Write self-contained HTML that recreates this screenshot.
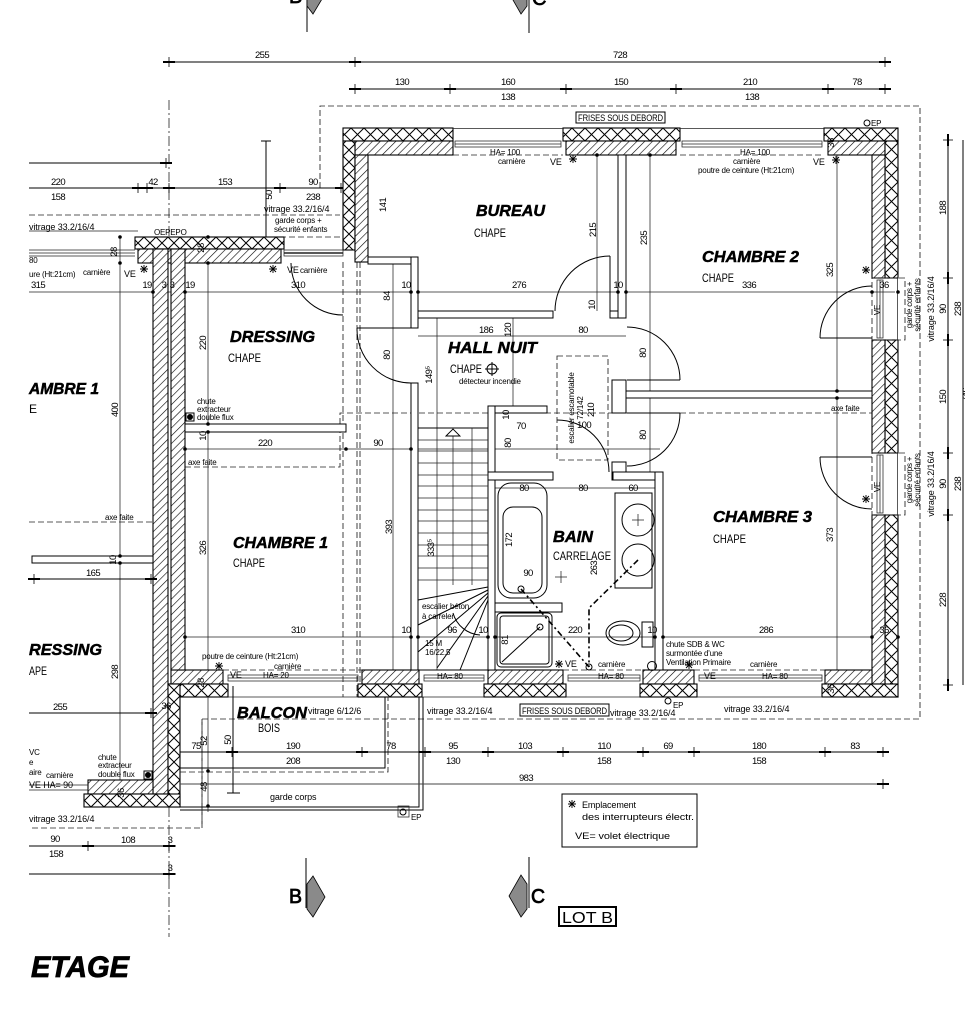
<!DOCTYPE html>
<html><head><meta charset="utf-8">
<style>
html,body{margin:0;padding:0;background:#fff;}
svg{display:block;}
text{font-family:"Liberation Sans",sans-serif;fill:#000;}
.d{font-size:9.5px;letter-spacing:-0.6px;}
.s{font-size:8px;letter-spacing:-0.2px;}
.m{font-size:9px;letter-spacing:-0.1px;}
.r{font-weight:bold;font-style:italic;font-size:16px;stroke:#000;stroke-width:0.5;}
.c{font-size:12px;}
.ln{stroke:#000;stroke-width:1;fill:none;}
.th{stroke:#222;stroke-width:0.75;fill:none;}
.da{stroke:#222;stroke-width:0.85;stroke-dasharray:6 3;fill:none;}
.dd{stroke:#222;stroke-width:0.8;stroke-dasharray:10 3 2 3;fill:none;}
.w{fill:#fff;stroke:#000;stroke-width:1;}
.hb{stroke:#000;stroke-width:1.1;}
</style></head><body>
<svg width="965" height="1024" viewBox="0 0 965 1024" xmlns="http://www.w3.org/2000/svg" xmlns:xlink="http://www.w3.org/1999/xlink">
<defs>
<pattern id="dg" patternUnits="userSpaceOnUse" width="5.5" height="5.5" patternTransform="rotate(45)"><rect width="5.5" height="5.5" fill="#fff"/><line x1="0" y1="0" x2="0" y2="5.5" stroke="#000" stroke-width="1.2"/></pattern>
<pattern id="xT" patternUnits="userSpaceOnUse" x="0" y="128" width="13" height="13"><rect width="13" height="13" fill="#fff"/><path d="M0 0L13 13M13 0L0 13" stroke="#000" stroke-width="1"/></pattern>
<pattern id="xB" patternUnits="userSpaceOnUse" x="0" y="684" width="13" height="13"><rect width="13" height="13" fill="#fff"/><path d="M0 0L13 13M13 0L0 13" stroke="#000" stroke-width="1"/></pattern>
<pattern id="xR" patternUnits="userSpaceOnUse" x="885" y="0" width="13" height="13"><rect width="13" height="13" fill="#fff"/><path d="M0 0L13 13M13 0L0 13" stroke="#000" stroke-width="1"/></pattern>
<pattern id="xL" patternUnits="userSpaceOnUse" x="343" y="0" width="12" height="12"><rect width="12" height="12" fill="#fff"/><path d="M0 0L12 12M12 0L0 12" stroke="#000" stroke-width="1"/></pattern>
<pattern id="xW" patternUnits="userSpaceOnUse" x="0" y="237" width="12" height="12"><rect width="12" height="12" fill="#fff"/><path d="M0 0L12 12M12 0L0 12" stroke="#000" stroke-width="1"/></pattern>
<pattern id="xV" patternUnits="userSpaceOnUse" x="168" y="0" width="12" height="12"><rect width="12" height="12" fill="#fff"/><path d="M0 0L12 12M12 0L0 12" stroke="#000" stroke-width="1"/></pattern>
<pattern id="xLB" patternUnits="userSpaceOnUse" x="0" y="794" width="13" height="13"><rect width="13" height="13" fill="#fff"/><path d="M0 0L13 13M13 0L0 13" stroke="#000" stroke-width="1"/></pattern>
<g id="tk"><line x1="0" y1="-5" x2="0" y2="5" stroke="#000" stroke-width="0.8"/><rect x="-6" y="-1" width="12" height="2" fill="#000"/></g>
<g id="tkv"><line x1="-5" y1="0" x2="5" y2="0" stroke="#000" stroke-width="0.8"/><rect x="-1" y="-6" width="2" height="12" fill="#000"/></g>
<g id="ast"><path d="M-4 0H4M0 -4V4M-3 -3L3 3M-3 3L3 -3" stroke="#000" stroke-width="0.9"/></g>
</defs>
<rect width="965" height="1024" fill="#fff"/>

<!-- section markers top -->
<line x1="307" y1="0" x2="307" y2="32" class="ln"/>
<polygon points="307,-19 313,-27 325,-6 313,14 307,6" fill="#8a8a8a" stroke="#000" stroke-width="0.8"/>
<text x="289" y="3" font-size="20" fill="#fff" stroke="#000" stroke-width="0.7">B</text>
<line x1="529" y1="0" x2="529" y2="33" class="ln"/>
<polygon points="527,-19 521,-28 509,-7 521,14 527,6" fill="#8a8a8a" stroke="#000" stroke-width="0.8"/>
<text x="532" y="5" font-size="20" fill="#fff" stroke="#000" stroke-width="0.7">C</text>

<!-- top dimensions -->
<line x1="169" y1="62" x2="885" y2="62" class="ln"/>
<use xlink:href="#tk" x="169" y="62"/><use xlink:href="#tk" x="355" y="62"/><use xlink:href="#tk" x="885" y="62"/>
<text x="262" y="58" class="d" text-anchor="middle">255</text>
<text x="620" y="58" class="d" text-anchor="middle">728</text>
<line x1="355" y1="89" x2="885" y2="89" class="ln"/>
<use xlink:href="#tk" x="355" y="89"/><use xlink:href="#tk" x="450" y="89"/><use xlink:href="#tk" x="566" y="89"/><use xlink:href="#tk" x="676" y="89"/><use xlink:href="#tk" x="828" y="89"/><use xlink:href="#tk" x="885" y="89"/>
<text x="402" y="85" class="d" text-anchor="middle">130</text>
<text x="508" y="85" class="d" text-anchor="middle">160</text>
<text x="508" y="100" class="d" text-anchor="middle">138</text>
<text x="621" y="85" class="d" text-anchor="middle">150</text>
<text x="750" y="85" class="d" text-anchor="middle">210</text>
<text x="752" y="100" class="d" text-anchor="middle">138</text>
<text x="857" y="85" class="d" text-anchor="middle">78</text>

<!-- roof outline dashed -->
<path d="M320 188V106H920V719H202V828H29" class="da"/>
<line x1="29" y1="215" x2="340" y2="215" class="da"/>
<line x1="280" y1="237" x2="343" y2="237" class="da"/>
<line x1="29" y1="231" x2="138" y2="231" class="th"/>
<line x1="343" y1="262" x2="343" y2="697" class="da"/>
<line x1="357" y1="262" x2="357" y2="697" class="da"/>
<line x1="360" y1="262" x2="360" y2="697" class="da"/>
<path d="M185 467H340V413H872" class="da"/>
<line x1="29" y1="522" x2="153" y2="522" class="da"/>

<!-- axis dash-dot -->
<line x1="169" y1="100" x2="169" y2="250" class="dd"/>
<line x1="169" y1="807" x2="169" y2="937" class="dd"/>

<!-- left top dims -->
<line x1="29" y1="163" x2="169" y2="163" class="ln"/><use xlink:href="#tk" x="166" y="163"/>
<line x1="29" y1="188" x2="343" y2="188" class="ln"/>
<use xlink:href="#tk" x="138" y="188"/><use xlink:href="#tk" x="147" y="188"/><use xlink:href="#tk" x="169" y="188"/><use xlink:href="#tk" x="280" y="188"/><use xlink:href="#tk" x="341" y="188"/>
<text x="58" y="185" class="d" text-anchor="middle">220</text>
<text x="58" y="200" class="d" text-anchor="middle">158</text>
<text x="153" y="185" class="d" text-anchor="middle">42</text>
<text x="225" y="185" class="d" text-anchor="middle">153</text>
<text class="d" transform="translate(272,195) rotate(-90)" text-anchor="middle">50</text>
<text x="313" y="185" class="d" text-anchor="middle">90</text>
<text x="313" y="200" class="d" text-anchor="middle">238</text>
<line x1="266" y1="141" x2="266" y2="245" class="ln"/><line x1="261" y1="141" x2="271" y2="141" class="ln"/>
<text x="264" y="212" class="m">vitrage 33.2/16/4</text>
<text x="275" y="223" class="s">garde corps +</text>
<text x="274" y="232" class="s">sécurité enfants</text>
<text x="29" y="230" class="m">vitrage 33.2/16/4</text>
<text x="154" y="235" class="s">OEPEPO</text>

<!-- thin grid lines -->
<line x1="29" y1="292" x2="895" y2="292" class="th"/>
<line x1="120" y1="237" x2="120" y2="807" class="th"/>
<line x1="208" y1="237" x2="208" y2="690" class="th"/>
<line x1="393" y1="262" x2="393" y2="670" class="th"/>
<line x1="437" y1="318" x2="437" y2="670" class="th"/>
<line x1="513" y1="318" x2="513" y2="406" class="th"/>
<line x1="597" y1="155" x2="597" y2="311" class="th"/>
<line x1="650" y1="155" x2="650" y2="472" class="th"/>
<line x1="837" y1="155" x2="837" y2="697" class="th"/>
<line x1="418" y1="336" x2="626" y2="336" class="th"/>
<line x1="185" y1="449" x2="660" y2="449" class="th"/>
<line x1="185" y1="637" x2="895" y2="637" class="th"/>
<line x1="495" y1="488" x2="655" y2="488" class="th"/>

<!-- ===== main walls ===== -->
<rect x="343" y="128" width="110" height="13" fill="url(#xT)" class="hb"/>
<rect x="563" y="128" width="117" height="13" fill="url(#xT)" class="hb"/>
<rect x="824" y="128" width="74" height="13" fill="url(#xT)" class="hb"/>
<rect x="355" y="141" width="98" height="14" fill="url(#dg)" class="hb"/>
<rect x="566" y="141" width="110" height="14" fill="url(#dg)" class="hb"/>
<rect x="828" y="141" width="57" height="14" fill="url(#dg)" class="hb"/>
<rect x="343" y="141" width="12" height="109" fill="url(#xL)" class="hb"/>
<rect x="355" y="155" width="13" height="107" fill="url(#dg)" class="hb"/>
<rect x="885" y="141" width="13" height="137" fill="url(#xR)" class="hb"/>
<rect x="885" y="340" width="13" height="113" fill="url(#xR)" class="hb"/>
<rect x="885" y="515" width="13" height="182" fill="url(#xR)" class="hb"/>
<rect x="872" y="155" width="13" height="123" fill="url(#dg)" class="hb"/>
<rect x="872" y="340" width="13" height="113" fill="url(#dg)" class="hb"/>
<rect x="872" y="515" width="13" height="169" fill="url(#dg)" class="hb"/>
<rect x="171" y="670" width="52" height="14" fill="url(#dg)" class="hb"/>
<rect x="362" y="670" width="57" height="14" fill="url(#dg)" class="hb"/>
<rect x="488" y="670" width="75" height="14" fill="url(#dg)" class="hb"/>
<rect x="643" y="670" width="51" height="14" fill="url(#dg)" class="hb"/>
<rect x="825" y="670" width="47" height="14" fill="url(#dg)" class="hb"/>
<rect x="168" y="684" width="60" height="13" fill="url(#xB)" class="hb"/>
<rect x="358" y="684" width="64" height="13" fill="url(#xB)" class="hb"/>
<rect x="484" y="684" width="82" height="13" fill="url(#xB)" class="hb"/>
<rect x="640" y="684" width="57" height="13" fill="url(#xB)" class="hb"/>
<rect x="822" y="684" width="76" height="13" fill="url(#xB)" class="hb"/>
<rect x="135" y="237" width="149" height="12" fill="url(#xW)" class="hb"/>
<rect x="138" y="249" width="143" height="14" fill="url(#dg)" class="hb"/>
<rect x="153" y="249" width="15" height="545" fill="url(#dg)" class="hb"/>
<rect x="171" y="249" width="14" height="421" fill="url(#dg)" class="hb"/>
<rect x="168" y="684" width="12" height="123" fill="url(#xV)" class="hb"/>
<rect x="88" y="780" width="65" height="14" fill="url(#dg)" class="hb"/>
<rect x="84" y="794" width="96" height="13" fill="url(#xLB)" class="hb"/>

<!-- windows -->
<g class="th">
<line x1="453" y1="128.5" x2="563" y2="128.5"/><line x1="453" y1="155" x2="563" y2="155" class="da"/>
<rect x="455" y="141" width="106" height="6"/><line x1="455" y1="144" x2="561" y2="144"/>
<line x1="680" y1="128.5" x2="824" y2="128.5"/><line x1="680" y1="155" x2="824" y2="155" class="da"/>
<rect x="682" y="141" width="140" height="6"/><line x1="682" y1="144" x2="822" y2="144"/>
<line x1="228" y1="697" x2="358" y2="697"/><line x1="223" y1="670" x2="362" y2="670" class="da"/>
<rect x="228" y="675" width="130" height="6"/><line x1="228" y1="678" x2="358" y2="678"/>
<line x1="422" y1="697" x2="484" y2="697"/><line x1="419" y1="670" x2="488" y2="670" class="da"/>
<rect x="424" y="675" width="60" height="6"/><line x1="424" y1="678" x2="484" y2="678"/>
<line x1="566" y1="697" x2="640" y2="697"/><line x1="563" y1="670" x2="643" y2="670" class="da"/>
<rect x="568" y="675" width="72" height="6"/><line x1="568" y1="678" x2="640" y2="678"/>
<line x1="697" y1="697" x2="822" y2="697"/><line x1="694" y1="670" x2="825" y2="670" class="da"/>
<rect x="699" y="675" width="123" height="6"/><line x1="699" y1="678" x2="822" y2="678"/>
<line x1="897.5" y1="278" x2="897.5" y2="340"/><rect x="877" y="280" width="6" height="58"/><line x1="880" y1="280" x2="880" y2="338"/>
<line x1="897.5" y1="453" x2="897.5" y2="515"/><rect x="877" y="455" width="6" height="58"/><line x1="880" y1="455" x2="880" y2="513"/>
<rect x="872" y="278" width="33" height="62" class="da"/>
<rect x="872" y="453" width="33" height="62" class="da"/>
<line x1="29" y1="250" x2="135" y2="250"/><line x1="29" y1="256" x2="135" y2="256"/><line x1="29" y1="253" x2="135" y2="253"/>
<rect x="284" y="250" width="59" height="6"/><line x1="284" y1="253" x2="343" y2="253" stroke-width="1.5"/>
<line x1="29" y1="785" x2="88" y2="785"/><line x1="29" y1="790" x2="88" y2="790"/>
</g>

<!-- interior walls -->
<rect x="368" y="257" width="50" height="7" class="w"/>
<rect x="411" y="257" width="7" height="71" class="w"/>
<rect x="411" y="383" width="7" height="287" class="w"/>
<rect x="418" y="311" width="135" height="7" class="w"/>
<rect x="610" y="311" width="16" height="7" class="w"/>
<rect x="618" y="155" width="8" height="163" class="w"/>
<rect x="612" y="380" width="14" height="33" class="w"/>
<rect x="612" y="462" width="14" height="18" class="w"/>
<rect x="626" y="391" width="246" height="7" class="w"/>
<rect x="185" y="424" width="161" height="8" class="w"/>
<rect x="488" y="406" width="59" height="7" class="w"/>
<rect x="488" y="406" width="7" height="264" class="w"/>
<rect x="488" y="472" width="65" height="8" class="w"/>
<rect x="613" y="472" width="50" height="8" class="w"/>
<rect x="655" y="472" width="8" height="198" class="w"/>
<rect x="495" y="603" width="67" height="9" class="w"/>
<rect x="32" y="556" width="121" height="7" class="w"/>

<!-- doors -->
<g class="ln" stroke-width="0.9">
<path d="M610 256A55 55 0 0 0 555 311"/><line x1="610" y1="256" x2="610" y2="311"/>
<path d="M357 328A54 54 0 0 0 411 383"/><line x1="357" y1="328" x2="411" y2="328"/>
<path d="M680 380A53 53 0 0 0 627 327"/><line x1="627" y1="380" x2="680" y2="380"/>
<path d="M680 413A53 53 0 0 1 627 466"/><line x1="627" y1="413" x2="680" y2="413"/>
<path d="M291 263A52 52 0 0 0 343 315"/>
<path d="M557 420A52 52 0 0 1 609 472"/>
<path d="M820 338A52 52 0 0 1 872 286"/><line x1="820" y1="338" x2="872" y2="338"/>
<path d="M820 457A52 52 0 0 0 872 509"/><line x1="820" y1="457" x2="872" y2="457"/>
</g>

<!-- stairs -->
<rect x="418" y="428" width="70" height="242" class="ln"/>
<g class="th">
<line x1="418" y1="440" x2="488" y2="440"/><line x1="418" y1="451" x2="488" y2="451"/><line x1="418" y1="463" x2="488" y2="463"/>
<line x1="418" y1="475" x2="488" y2="475"/><line x1="418" y1="486" x2="488" y2="486"/><line x1="418" y1="498" x2="488" y2="498"/>
<line x1="418" y1="510" x2="488" y2="510"/><line x1="418" y1="521" x2="488" y2="521"/><line x1="418" y1="533" x2="488" y2="533"/>
<line x1="418" y1="545" x2="488" y2="545"/><line x1="418" y1="556" x2="488" y2="556"/><line x1="418" y1="568" x2="488" y2="568"/>
<line x1="418" y1="580" x2="488" y2="580"/>
<line x1="453" y1="436" x2="453" y2="585"/><line x1="472" y1="428" x2="472" y2="585"/>
</g>
<g class="ln" stroke-width="0.8">
<line x1="488" y1="587" x2="418" y2="600"/><line x1="488" y1="590" x2="418" y2="625"/>
<line x1="488" y1="593" x2="418" y2="652"/><line x1="488" y1="596" x2="437" y2="668"/>
<line x1="488" y1="600" x2="460" y2="670"/>
<path d="M453 613A30 30 0 0 0 480 635"/>
</g>
<polygon points="446,436 453,429 460,436" fill="#fff" stroke="#000" stroke-width="0.9"/>

<!-- escalier escamotable -->
<rect x="557" y="356" width="51" height="104" class="da"/>

<!-- bathroom fixtures -->
<g class="ln" stroke-width="0.9">
<rect x="498" y="483" width="49" height="115" rx="13"/>
<rect x="503" y="507" width="39" height="86" rx="10"/>
<circle cx="521" cy="589" r="3"/>
<rect x="497" y="613" width="55" height="54" rx="4"/>
<rect x="500" y="616" width="49" height="48" rx="3"/>
<line x1="502" y1="662" x2="540" y2="627"/><circle cx="540" cy="627" r="3"/>
<rect x="615" y="493" width="37" height="95"/>
<circle cx="638" cy="520" r="16"/><circle cx="638" cy="560" r="16"/>
<ellipse cx="623" cy="633" rx="17" ry="12"/><ellipse cx="621" cy="633" rx="12" ry="8"/>
<rect x="642" y="622" width="11" height="25"/>
<circle cx="589" cy="667" r="3"/><circle cx="652" cy="666" r="4.5"/>
</g>
<g stroke="#000" stroke-width="1.6" stroke-dasharray="6 3 2 3" fill="none">
<path d="M521 589L589 667"/><path d="M638 560L589 608V667"/>
</g>
<g class="th"><line x1="632" y1="520" x2="644" y2="520"/><line x1="638" y1="514" x2="638" y2="526"/><line x1="555" y1="577" x2="567" y2="577"/><line x1="561" y1="571" x2="561" y2="583"/></g>

<!-- balcony -->
<g class="ln" stroke-width="0.8">
<line x1="180" y1="697" x2="180" y2="807"/>
<path d="M180 807H419V697M180 810H423V697"/>
<path d="M180 768H385V697"/>
<line x1="180" y1="784" x2="885" y2="784" stroke="#444"/>
<line x1="233" y1="686" x2="233" y2="793"/><line x1="227" y1="793" x2="240" y2="793"/>
</g>
<path d="M180 772H388V697" class="da"/>
<line x1="202" y1="719" x2="202" y2="828" class="da"/>
<line x1="208" y1="697" x2="208" y2="812" class="th"/>
<circle cx="403" cy="812" r="3" class="ln"/><rect x="398" y="806" width="11" height="11" class="th"/>
<text x="411" y="820" class="s">EP</text>

<!-- bottom dims -->
<line x1="180" y1="752" x2="885" y2="752" class="ln"/>
<use xlink:href="#tk" x="232" y="752"/><use xlink:href="#tk" x="362" y="752"/><use xlink:href="#tk" x="425" y="752"/><use xlink:href="#tk" x="488" y="752"/><use xlink:href="#tk" x="563" y="752"/><use xlink:href="#tk" x="643" y="752"/><use xlink:href="#tk" x="694" y="752"/><use xlink:href="#tk" x="825" y="752"/><use xlink:href="#tk" x="883" y="752"/>
<use xlink:href="#tk" x="883" y="784"/>
<text x="196" y="749" class="d" text-anchor="middle">75</text>
<text class="d" transform="translate(207,741) rotate(-90)" text-anchor="middle">52</text>
<text class="d" transform="translate(231,740) rotate(-90)" text-anchor="middle">50</text>
<text class="d" transform="translate(207,787) rotate(-90)" text-anchor="middle">48</text>
<text x="293" y="749" class="d" text-anchor="middle">190</text>
<text x="293" y="764" class="d" text-anchor="middle">208</text>
<text x="391" y="749" class="d" text-anchor="middle">78</text>
<text x="453" y="749" class="d" text-anchor="middle">95</text>
<text x="453" y="764" class="d" text-anchor="middle">130</text>
<text x="525" y="749" class="d" text-anchor="middle">103</text>
<text x="604" y="749" class="d" text-anchor="middle">110</text>
<text x="604" y="764" class="d" text-anchor="middle">158</text>
<text x="668" y="749" class="d" text-anchor="middle">69</text>
<text x="759" y="749" class="d" text-anchor="middle">180</text>
<text x="759" y="764" class="d" text-anchor="middle">158</text>
<text x="855" y="749" class="d" text-anchor="middle">83</text>
<text x="526" y="781" class="d" text-anchor="middle">983</text>
<text x="270" y="800" class="m">garde corps</text>

<!-- right dims -->
<line x1="948" y1="140" x2="948" y2="685" class="ln"/>
<use xlink:href="#tkv" x="948" y="140"/><use xlink:href="#tkv" x="948" y="278"/><use xlink:href="#tkv" x="948" y="340"/><use xlink:href="#tkv" x="948" y="453"/><use xlink:href="#tkv" x="948" y="515"/><use xlink:href="#tkv" x="948" y="685"/>
<line x1="963" y1="140" x2="963" y2="685" class="ln"/>
<text class="d" transform="translate(946,208) rotate(-90)" text-anchor="middle">188</text>
<text class="d" transform="translate(946,309) rotate(-90)" text-anchor="middle">90</text>
<text class="d" transform="translate(961,309) rotate(-90)" text-anchor="middle">238</text>
<text class="d" transform="translate(946,397) rotate(-90)" text-anchor="middle">150</text>
<text class="d" transform="translate(946,484) rotate(-90)" text-anchor="middle">90</text>
<text class="d" transform="translate(961,484) rotate(-90)" text-anchor="middle">238</text>
<text class="d" transform="translate(946,600) rotate(-90)" text-anchor="middle">228</text>
<text class="d" transform="translate(969,395) rotate(-90)" text-anchor="middle">746</text>
<text class="s" transform="translate(912,305) rotate(-90)" text-anchor="middle">garde corps +</text>
<text class="s" transform="translate(920,305) rotate(-90)" text-anchor="middle">sécurité enfants</text>
<text class="m" transform="translate(934,309) rotate(-90)" text-anchor="middle">vitrage 33.2/16/4</text>
<text class="s" transform="translate(912,480) rotate(-90)" text-anchor="middle">garde corps +</text>
<text class="s" transform="translate(920,480) rotate(-90)" text-anchor="middle">sécurité enfants</text>
<text class="m" transform="translate(934,484) rotate(-90)" text-anchor="middle">vitrage 33.2/16/4</text>

<!-- left bottom dims -->
<line x1="29" y1="713" x2="153" y2="713" class="ln"/><use xlink:href="#tk" x="151" y="713"/>
<text x="60" y="710" class="d" text-anchor="middle">255</text>
<line x1="32" y1="579" x2="153" y2="579" class="ln"/><use xlink:href="#tk" x="34" y="579"/><use xlink:href="#tk" x="151" y="579"/>
<text x="93" y="576" class="d" text-anchor="middle">165</text>
<line x1="29" y1="846" x2="176" y2="846" class="ln"/><use xlink:href="#tk" x="88" y="846"/><use xlink:href="#tk" x="169" y="846"/>
<line x1="29" y1="874" x2="176" y2="874" class="ln"/><use xlink:href="#tk" x="169" y="874"/>
<text x="55" y="842" class="d" text-anchor="middle">90</text>
<text x="128" y="843" class="d" text-anchor="middle">108</text>
<text x="56" y="857" class="d" text-anchor="middle">158</text>
<text x="170" y="843" class="d" text-anchor="middle">3</text>
<text x="170" y="871" class="d" text-anchor="middle">3</text>

<!-- interior dimension labels -->
<g class="d">
<text x="38" y="288" text-anchor="middle">315</text>
<text x="147" y="288" text-anchor="middle">19</text>
<text x="164" y="288" text-anchor="middle">3</text>
<text x="172" y="288" text-anchor="middle">3</text>
<text x="190" y="288" text-anchor="middle">19</text>
<text x="298" y="288" text-anchor="middle">310</text>
<text x="406" y="288" text-anchor="middle">10</text>
<text x="519" y="288" text-anchor="middle">276</text>
<text x="618" y="288" text-anchor="middle">10</text>
<text x="749" y="288" text-anchor="middle">336</text>
<text x="884" y="288" text-anchor="middle">36</text>
<text x="486" y="333" text-anchor="middle">186</text>
<text x="583" y="333" text-anchor="middle">80</text>
<text x="265" y="446" text-anchor="middle">220</text>
<text x="378" y="446" text-anchor="middle">90</text>
<text x="521" y="429" text-anchor="middle">70</text>
<text x="584" y="428" text-anchor="middle">100</text>
<text x="524" y="491" text-anchor="middle">80</text>
<text x="583" y="491" text-anchor="middle">80</text>
<text x="633" y="491" text-anchor="middle">60</text>
<text x="528" y="576" text-anchor="middle">90</text>
<text x="298" y="633" text-anchor="middle">310</text>
<text x="406" y="633" text-anchor="middle">10</text>
<text x="452" y="633" text-anchor="middle">96</text>
<text x="483" y="633" text-anchor="middle">10</text>
<text x="575" y="633" text-anchor="middle">220</text>
<text x="652" y="633" text-anchor="middle">10</text>
<text x="766" y="633" text-anchor="middle">286</text>
<text x="884" y="633" text-anchor="middle">36</text>
<text x="166" y="709" text-anchor="middle">36</text>
<text transform="translate(386,205) rotate(-90)" text-anchor="middle">141</text>
<text transform="translate(596,230) rotate(-90)" text-anchor="middle">215</text>
<text transform="translate(647,238) rotate(-90)" text-anchor="middle">235</text>
<text transform="translate(833,270) rotate(-90)" text-anchor="middle">325</text>
<text transform="translate(834,143) rotate(-90)" text-anchor="middle">36</text>
<text transform="translate(390,296) rotate(-90)" text-anchor="middle">84</text>
<text transform="translate(390,355) rotate(-90)" text-anchor="middle">80</text>
<text transform="translate(206,343) rotate(-90)" text-anchor="middle">220</text>
<text transform="translate(206,436) rotate(-90)" text-anchor="middle">10</text>
<text transform="translate(206,548) rotate(-90)" text-anchor="middle">326</text>
<text transform="translate(118,410) rotate(-90)" text-anchor="middle">400</text>
<text transform="translate(118,672) rotate(-90)" text-anchor="middle">298</text>
<text transform="translate(116,560) rotate(-90)" text-anchor="middle">10</text>
<text transform="translate(117,252) rotate(-90)" text-anchor="middle">28</text>
<text transform="translate(204,248) rotate(-90)" text-anchor="middle">28</text>
<text transform="translate(392,527) rotate(-90)" text-anchor="middle">393</text>
<text transform="translate(434,548) rotate(-90)" text-anchor="middle">333⁵</text>
<text transform="translate(432,375) rotate(-90)" text-anchor="middle">149⁵</text>
<text transform="translate(511,330) rotate(-90)" text-anchor="middle">120</text>
<text transform="translate(595,305) rotate(-90)" text-anchor="middle">10</text>
<text transform="translate(646,353) rotate(-90)" text-anchor="middle">80</text>
<text transform="translate(646,435) rotate(-90)" text-anchor="middle">80</text>
<text transform="translate(511,443) rotate(-90)" text-anchor="middle">80</text>
<text transform="translate(509,415) rotate(-90)" text-anchor="middle">10</text>
<text transform="translate(594,410) rotate(-90)" text-anchor="middle">210</text>
<text transform="translate(512,540) rotate(-90)" text-anchor="middle">172</text>
<text transform="translate(597,568) rotate(-90)" text-anchor="middle">263</text>
<text transform="translate(508,640) rotate(-90)" text-anchor="middle">81</text>
<text transform="translate(833,535) rotate(-90)" text-anchor="middle">373</text>
<text transform="translate(834,689) rotate(-90)" text-anchor="middle">36</text>
<text transform="translate(204,683) rotate(-90)" text-anchor="middle">28</text>
<text transform="translate(124,793) rotate(-90)" text-anchor="middle">36</text>
</g>
<text class="s" transform="translate(574,408) rotate(-90)" text-anchor="middle">escalier escamotable</text>
<text class="s" transform="translate(583,408) rotate(-90)" text-anchor="middle">72/142</text>

<!-- small labels -->
<g class="s">
<text x="490" y="155">HA= 100</text>
<text x="498" y="164">carnière</text>
<text x="740" y="155">HA= 100</text>
<text x="733" y="164">carnière</text>
<text x="698" y="173">poutre de ceinture (Ht:21cm)</text>
<text x="202" y="659">poutre de ceinture (Ht:21cm)</text>
<text x="274" y="669">carnière</text>
<text x="263" y="678">HA= 20</text>
<text x="437" y="679">HA= 80</text>
<text x="598" y="667">carnière</text>
<text x="598" y="679">HA= 80</text>
<text x="750" y="667">carnière</text>
<text x="762" y="679">HA= 80</text>
<text x="666" y="647">chute SDB &amp; WC</text>
<text x="666" y="656">surmontée d'une</text>
<text x="666" y="665">Ventilation Primaire</text>
<text x="422" y="609">escalier béton</text>
<text x="422" y="619">à carreler</text>
<text x="425" y="646">15 M</text>
<text x="425" y="655">16/22.5</text>
<text x="459" y="384">détecteur incendie</text>
<text x="197" y="404">chute</text>
<text x="197" y="412">extracteur</text>
<text x="197" y="420">double flux</text>
<text x="98" y="760">chute</text>
<text x="98" y="768">extracteur</text>
<text x="98" y="777">double flux</text>
<text x="188" y="465">axe faite</text>
<text x="105" y="520">axe faite</text>
<text x="831" y="411">axe faite</text>
<text x="29" y="277">ure (Ht:21cm)</text>
<text x="83" y="275">carnière</text>
<text x="300" y="273">carnière</text>
<text x="46" y="778">carnière</text>
<text x="29" y="263">80</text>
<text x="29" y="755">VC</text>
<text x="29" y="765">e</text>
<text x="29" y="775">aire</text>
<text x="871" y="126">EP</text>
<text x="673" y="708">EP</text>
</g>
<g class="m">
<text x="550" y="165">VE</text>
<text x="813" y="165">VE</text>
<text x="124" y="277">VE</text>
<text x="287" y="273">VE</text>
<text x="230" y="678">VE</text>
<text x="565" y="667">VE</text>
<text x="704" y="679">VE</text>
<text x="29" y="788">VE HA= 90</text>
<text x="427" y="714">vitrage 33.2/16/4</text>
<text x="610" y="716">vitrage 33.2/16/4</text>
<text x="724" y="712">vitrage 33.2/16/4</text>
<text x="29" y="822">vitrage 33.2/16/4</text>
<text x="308" y="714">vitrage 6/12/6</text>
</g>
<text class="s" transform="translate(880,310) rotate(-90)" text-anchor="middle">VE</text>
<text class="s" transform="translate(880,487) rotate(-90)" text-anchor="middle">VE</text>
<circle cx="867" cy="123" r="3" class="ln"/>
<circle cx="668" cy="701" r="3" class="ln"/>

<!-- asterisks -->
<use xlink:href="#ast" x="573" y="159"/><use xlink:href="#ast" x="836" y="160"/>
<use xlink:href="#ast" x="866" y="270"/><use xlink:href="#ast" x="866" y="499"/>
<use xlink:href="#ast" x="144" y="269"/><use xlink:href="#ast" x="273" y="269"/>
<use xlink:href="#ast" x="219" y="666"/><use xlink:href="#ast" x="559" y="664"/>
<use xlink:href="#ast" x="689" y="665"/><use xlink:href="#ast" x="572" y="804"/>

<!-- symbols -->
<circle cx="492" cy="369" r="5" class="ln"/><path d="M485 369H499M492 362V376" class="ln" stroke-width="0.8"/>
<rect x="186" y="413" width="8" height="8" class="ln"/><circle cx="190" cy="417" r="3" fill="#000"/>
<rect x="144" y="771" width="8" height="8" class="ln"/><circle cx="148" cy="775" r="3" fill="#000"/>

<!-- dots -->
<g fill="#000">
<circle cx="120" cy="237" r="1.8"/><circle cx="208" cy="237" r="1.8"/><circle cx="120" cy="263" r="1.8"/><circle cx="208" cy="263" r="1.8"/>
<circle cx="153" cy="292" r="1.8"/><circle cx="185" cy="292" r="1.8"/><circle cx="411" cy="292" r="1.8"/><circle cx="418" cy="292" r="1.8"/>
<circle cx="618" cy="292" r="1.8"/><circle cx="626" cy="292" r="1.8"/><circle cx="872" cy="292" r="1.8"/><circle cx="898" cy="292" r="1.8"/>
<circle cx="185" cy="449" r="1.8"/><circle cx="346" cy="449" r="1.8"/><circle cx="411" cy="449" r="1.8"/>
<circle cx="185" cy="637" r="1.8"/><circle cx="411" cy="637" r="1.8"/><circle cx="418" cy="637" r="1.8"/><circle cx="488" cy="637" r="1.8"/><circle cx="495" cy="637" r="1.8"/><circle cx="655" cy="637" r="1.8"/><circle cx="663" cy="637" r="1.8"/><circle cx="872" cy="637" r="1.8"/><circle cx="898" cy="637" r="1.8"/>
<circle cx="120" cy="556" r="1.8"/><circle cx="120" cy="563" r="1.8"/><circle cx="208" cy="432" r="1.8"/><circle cx="208" cy="424" r="1.8"/>
<circle cx="208" cy="771" r="1.8"/><circle cx="208" cy="806" r="1.8"/>
<circle cx="837" cy="391" r="1.8"/><circle cx="837" cy="398" r="1.8"/><circle cx="650" cy="155" r="1.8"/><circle cx="597" cy="155" r="1.8"/>
</g>

<!-- room labels -->
<text x="476" y="216" class="r" font-size="15" textLength="69" lengthAdjust="spacingAndGlyphs">BUREAU</text>
<text x="474" y="237" class="c" textLength="32" lengthAdjust="spacingAndGlyphs">CHAPE</text>
<text x="702" y="262" class="r" textLength="97" lengthAdjust="spacingAndGlyphs">CHAMBRE 2</text>
<text x="702" y="282" class="c" textLength="32" lengthAdjust="spacingAndGlyphs">CHAPE</text>
<text x="230" y="342" class="r" textLength="85" lengthAdjust="spacingAndGlyphs">DRESSING</text>
<text x="228" y="362" class="c" textLength="33" lengthAdjust="spacingAndGlyphs">CHAPE</text>
<text x="448" y="353" class="r" textLength="89" lengthAdjust="spacingAndGlyphs">HALL NUIT</text>
<text x="450" y="373" class="c" textLength="32" lengthAdjust="spacingAndGlyphs">CHAPE</text>
<text x="233" y="548" class="r" textLength="95" lengthAdjust="spacingAndGlyphs">CHAMBRE 1</text>
<text x="233" y="567" class="c" textLength="32" lengthAdjust="spacingAndGlyphs">CHAPE</text>
<text x="713" y="522" class="r" textLength="99" lengthAdjust="spacingAndGlyphs">CHAMBRE 3</text>
<text x="713" y="543" class="c" textLength="33" lengthAdjust="spacingAndGlyphs">CHAPE</text>
<text x="553" y="542" class="r" textLength="40" lengthAdjust="spacingAndGlyphs">BAIN</text>
<text x="553" y="560" class="c" textLength="58" lengthAdjust="spacingAndGlyphs">CARRELAGE</text>
<text x="237" y="718" class="r" textLength="70" lengthAdjust="spacingAndGlyphs">BALCON</text>
<text x="258" y="732" class="c" textLength="22" lengthAdjust="spacingAndGlyphs">BOIS</text>
<text x="29" y="394" class="r" textLength="70" lengthAdjust="spacingAndGlyphs">AMBRE 1</text>
<text x="29" y="413" class="c">E</text>
<text x="29" y="655" class="r" textLength="73" lengthAdjust="spacingAndGlyphs">RESSING</text>
<text x="29" y="675" class="c" textLength="18" lengthAdjust="spacingAndGlyphs">APE</text>

<!-- frises boxes -->
<rect x="576" y="112" width="89" height="11" class="ln" stroke-width="0.8"/>
<text x="578" y="121" class="m" textLength="85" lengthAdjust="spacingAndGlyphs">FRISES SOUS DEBORD</text>
<rect x="520" y="704" width="89" height="12" class="ln" stroke-width="0.8"/>
<text x="522" y="714" class="m" textLength="85" lengthAdjust="spacingAndGlyphs">FRISES SOUS DEBORD</text>

<!-- legend -->
<rect x="562" y="794" width="135" height="53" class="ln" stroke-width="0.9"/>
<text x="582" y="808" class="m">Emplacement</text>
<text x="582" y="820" class="m" textLength="112" lengthAdjust="spacingAndGlyphs">des interrupteurs électr.</text>
<text x="575" y="839" class="m" textLength="95" lengthAdjust="spacingAndGlyphs">VE= volet électrique</text>

<!-- section markers bottom -->
<line x1="306" y1="858" x2="306" y2="908" class="ln"/>
<polygon points="307,884 313,876 325,897 313,917 307,909" fill="#8a8a8a" stroke="#000" stroke-width="0.8"/>
<text x="289" y="903" font-size="20" fill="#fff" stroke="#000" stroke-width="0.8" textLength="13" lengthAdjust="spacingAndGlyphs">B</text>
<line x1="529" y1="857" x2="529" y2="908" class="ln"/>
<polygon points="527,884 521,875 509,896 521,917 527,909" fill="#8a8a8a" stroke="#000" stroke-width="0.8"/>
<text x="531" y="903" font-size="20" fill="#fff" stroke="#000" stroke-width="0.8" textLength="14" lengthAdjust="spacingAndGlyphs">C</text>

<!-- LOT B -->
<rect x="559" y="907" width="57" height="19" fill="none" stroke="#000" stroke-width="2"/>
<text x="562" y="923" font-size="16" textLength="51" lengthAdjust="spacingAndGlyphs">LOT B</text>

<!-- ETAGE -->
<text x="31" y="977" font-size="30" font-weight="bold" font-style="italic" stroke="#000" stroke-width="0.8" textLength="98" lengthAdjust="spacingAndGlyphs">ETAGE</text>
</svg>
</body></html>
